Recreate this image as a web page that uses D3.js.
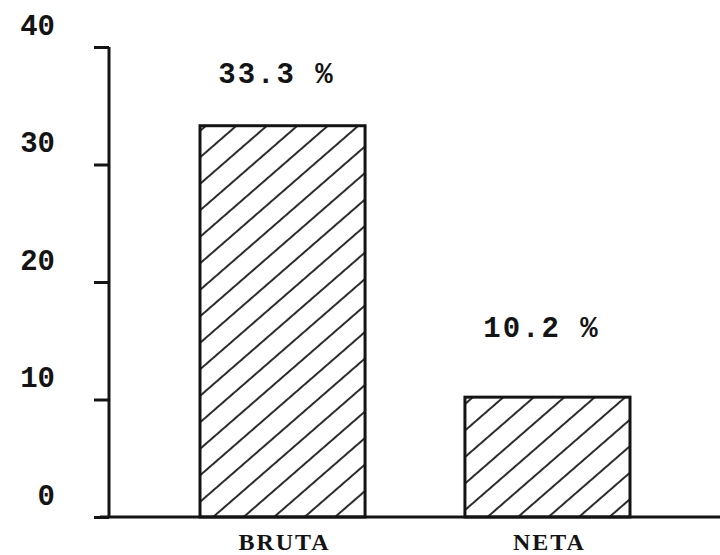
<!DOCTYPE html>
<html><head><meta charset="utf-8">
<script src="https://cdn.jsdelivr.net/npm/d3@7"></script>
<style>body{margin:0;background:#fff}</style>
</head><body>
<svg id="chart" width="720" height="555"></svg>
<script>
const categories = ["BRUTA", "NETA"];
const values = [33.3, 10.2];
const valueLabels = ["33.3 %", "10.2 %"];
const yTicks = [0, 10, 20, 30, 40];

const svg = d3.select("#chart");
const ink = "#141414";
const font = "'Liberation Mono', 'DejaVu Sans Mono', monospace";

const y = d3.scaleLinear().domain([0, 40]).range([517, 47]);
const x = d3.scaleBand().domain(categories).range([200, 630]).paddingInner(0.377).paddingOuter(0);

// hatch pattern
const defs = svg.append("defs");
const pat = defs.append("pattern")
  .attr("id", "hatch").attr("patternUnits", "userSpaceOnUse")
  .attr("width", 20).attr("height", 20)
  .attr("patternTransform", "rotate(-41)");
pat.append("line").attr("x1", 0).attr("y1", 10).attr("x2", 20).attr("y2", 10)
  .attr("stroke", ink).attr("stroke-width", 1.8);

// bars
svg.selectAll("rect.bar").data(values).join("rect")
  .attr("class", "bar")
  .attr("x", (d, i) => x(categories[i]))
  .attr("width", x.bandwidth())
  .attr("y", d => y(d))
  .attr("height", d => y(0) - y(d))
  .attr("fill", "url(#hatch)")
  .attr("stroke", ink).attr("stroke-width", 3);

// y axis
const axis = d3.axisLeft(y).tickValues(yTicks).tickSize(15).tickFormat("");
const gAxis = svg.append("g").attr("transform", "translate(109,0)").call(axis);
gAxis.select(".domain").remove();
gAxis.selectAll(".tick line").attr("stroke", ink).attr("stroke-width", 3);
svg.append("line").attr("x1", 109).attr("x2", 109).attr("y1", y(40)).attr("y2", y(0))
  .attr("stroke", ink).attr("stroke-width", 3);

// y labels
svg.selectAll("text.ylab").data(yTicks).join("text")
  .attr("class", "ylab")
  .attr("x", 55).attr("y", d => y(d) - 20)
  .attr("text-anchor", "end").attr("dominant-baseline", "middle")
  .attr("font-family", font).attr("font-size", 29).attr("font-weight", "bold")
  .attr("fill", ink).text(d => d);

// baseline
svg.append("line").attr("x1", 100).attr("x2", 720).attr("y1", y(0)).attr("y2", y(0))
  .attr("stroke", ink).attr("stroke-width", 3);

// value labels
const labelGap = [50, 68];
svg.selectAll("text.vlab").data(values).join("text")
  .attr("class", "vlab")
  .attr("x", (d, i) => x(categories[i]) + x.bandwidth() / 2 - 6)
  .attr("y", (d, i) => y(d) - labelGap[i])
  .attr("text-anchor", "middle").attr("dominant-baseline", "middle")
  .attr("font-family", font).attr("font-size", 29).attr("font-weight", "bold")
  .attr("letter-spacing", 2)
  .attr("fill", ink).text((d, i) => valueLabels[i]);

// category labels
svg.selectAll("text.xlab").data(categories).join("text")
  .attr("class", "xlab")
  .attr("x", d => x(d) + x.bandwidth() / 2 + 2)
  .attr("y", 544)
  .attr("text-anchor", "middle").attr("dominant-baseline", "middle")
  .attr("font-family", "'Liberation Serif', serif").attr("font-size", 24).attr("font-weight", "bold")
  .attr("letter-spacing", 2)
  .attr("fill", ink).text(d => d);
</script>
</body></html>
